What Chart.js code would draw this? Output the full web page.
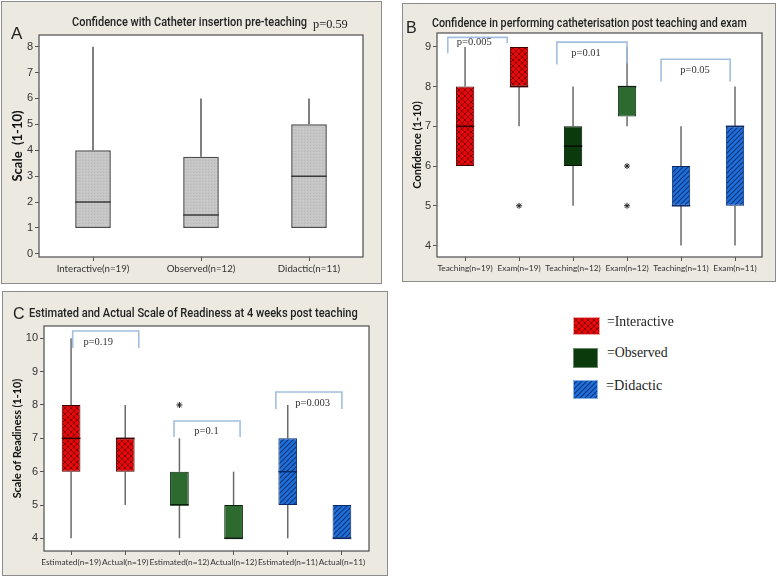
<!DOCTYPE html>
<html><head><meta charset="utf-8">
<script src="https://cdn.jsdelivr.net/npm/chart.js@4.4.1/dist/chart.umd.min.js"></script>
<style>
html,body{margin:0;padding:0;background:#fff;}
body{width:778px;height:577px;position:relative;overflow:hidden;}
.frame{position:absolute;box-sizing:border-box;background:#ece9e1;border:1px solid #8c8c8c;}
canvas{position:absolute;}
.t{position:absolute;white-space:nowrap;line-height:1.2;color:#222;transform-origin:0 50%;}
</style></head><body>
<div class="frame" style="left:1px;top:1px;width:381px;height:283px"></div>
<div class="frame" style="left:402px;top:3px;width:374px;height:279px"></div>
<div class="frame" style="left:2px;top:291px;width:386px;height:285px"></div>
<canvas id="cA" width="381" height="283" style="left:1px;top:1px"></canvas>
<canvas id="cB" width="374" height="279" style="left:402px;top:3px"></canvas>
<canvas id="cC" width="386" height="285" style="left:2px;top:291px"></canvas>
<canvas id="lg1" width="27" height="18" style="left:573px;top:317px"></canvas>
<canvas id="lg2" width="25" height="20" style="left:573px;top:348px"></canvas>
<canvas id="lg3" width="25" height="19" style="left:573px;top:380px"></canvas>
<script>
// ---------------- DATA ----------------
// Panel A : Confidence with Catheter insertion pre-teaching
const catsA = ['Interactive(n=19)', 'Observed(n=12)', 'Didactic(n=11)'];
const minA = [1, 1, 1];
const q1A  = [1, 1, 1];
const medA = [2, 1.5, 3];
const q3A  = [4, 3.75, 5];
const maxA = [8, 6, 6];
const outIdxA = [];
const outValA = [];
const yTicksA = [0, 1, 2, 3, 4, 5, 6, 7, 8];

// Panel B : Confidence in performing catheterisation post teaching and exam
const catsB = ['Teaching(n=19)', 'Exam(n=19)', 'Teaching(n=12)', 'Exam(n=12)', 'Teaching(n=11)', 'Exam(n=11)'];
const minB = [6, 7, 5, 7, 4, 4];
const q1B  = [6, 8, 6, 7.25, 5, 5];
const medB = [7, 8, 6.5, 8, 5, 7];
const q3B  = [8, 9, 7, 8, 6, 7];
const maxB = [9, 9, 8, 9, 7, 8];
const outIdxB = [1, 3, 3];
const outValB = [5, 6, 5];
const yTicksB = [4, 5, 6, 7, 8, 9];
const pLabelsB = ['p=0.005', 'p=0.01', 'p=0.05'];
const pFromB   = [-0.32, 1.70, 3.63];
const pToB     = [0.78, 3.0, 4.91];
const pTopB    = [9.24, 9.12, 8.69];
const pLeftEndB  = [8.84, 8.56, 8.12];
const pRightEndB = [9.09, 8.58, 8.12];
const pTextXB  = [0.17, 2.24, 4.26];
const pTextYB  = [9.12, 8.84, 8.41];

// Panel C : Estimated and Actual Scale of Readiness at 4 weeks post teaching
const catsC = ['Estimated(n=19)', 'Actual(n=19)', 'Estimated(n=12)', 'Actual(n=12)', 'Estimated(n=11)', 'Actual(n=11)'];
const minC = [4, 5, 4, 4, 4, 4];
const q1C  = [6, 6, 5, 4, 5, 4];
const medC = [7, 7, 5, 4, 6, 4];
const q3C  = [8, 7, 6, 5, 7, 5];
const maxC = [10, 8, 7, 6, 8, 5];
const outIdxC = [2];
const outValC = [8];
const yTicksC = [4, 5, 6, 7, 8, 9, 10];
const pLabelsC = ['p=0.19', 'p=0.1', 'p=0.003'];
const pFromC   = [0.03, 1.90, 3.78];
const pToC     = [1.25, 3.12, 5.0];
const pTopC    = [10.22, 7.52, 8.39];
const pLeftEndC  = [9.71, 7.04, 7.88];
const pRightEndC = [9.71, 7.04, 7.88];
const pTextXC  = [0.5, 2.5, 4.46];
const pTextYC  = [9.89, 7.2, 8.06];

// legend groups
const groups = ['Interactive', 'Observed', 'Didactic'];

// ---------------- STYLES ----------------
const NARROW = "Lato, 'Liberation Sans', sans-serif";
function tile(ctx, kind) {
  const c = document.createElement('canvas');
  const g = c.getContext('2d');
  if (kind === 'red') {
    c.width = c.height = 6;
    g.fillStyle = '#e8080a'; g.fillRect(0, 0, 6, 6);
    g.strokeStyle = '#8a0000'; g.lineWidth = 1;
    g.beginPath(); g.moveTo(0, 0); g.lineTo(6, 6); g.moveTo(6, 0); g.lineTo(0, 6); g.stroke();
  } else if (kind === 'blue') {
    c.width = c.height = 5;
    g.fillStyle = '#1f70dc'; g.fillRect(0, 0, 5, 5);
    g.strokeStyle = '#0c3577'; g.lineWidth = 1.2;
    g.beginPath(); g.moveTo(0, 5); g.lineTo(5, 0); g.moveTo(-1, 1); g.lineTo(1, -1); g.moveTo(4, 6); g.lineTo(6, 4); g.stroke();
  } else {
    c.width = c.height = 3;
    g.fillStyle = '#c5c5c5'; g.fillRect(0, 0, 3, 3);
    g.fillStyle = '#b9b9b9'; g.fillRect(0, 0, 1, 1);
    g.fillStyle = '#d0d0d0'; g.fillRect(2, 1, 1, 1);
  }
  return ctx.createPattern(c, 'repeat');
}
const STYLE = {
  gray:    {fill: 'gray', edge: '#4d4d4d', med: '#3a3a3a', bw: 1.5},
  red:     {fill: 'red', edge: '#3d0000', med: '#3d0000', bw: 1},
  dkgreen: {fill: '#0b3b0c', edge: '#031403', med: '#020b02', bw: 1},
  green:   {fill: '#2c6a30', edge: '#0a220b', med: '#0a220b', bw: 1},
  blue:    {fill: 'blue', edge: '#0b2966', med: '#0b2966', bw: 1}
};
function fillOf(ctx, key) {
  const f = STYLE[key].fill;
  return (f === 'red' || f === 'blue' || f === 'gray') ? tile(ctx, f) : f;
}

// ---------------- PLUGIN: whiskers, medians, brackets, frame ----------------
const boxPlugin = {
  id: 'boxDraw',
  beforeDraw(chart) {
    const {ctx, chartArea: a} = chart;
    ctx.save(); ctx.fillStyle = '#ffffff'; ctx.fillRect(a.left, a.top, a.width, a.height); ctx.restore();
  },
  beforeDatasetsDraw(chart) {
    const s = chart.data.datasets[0].stats;
    const {ctx, scales: {x, y}} = chart;
    ctx.save();
    ctx.strokeStyle = s.whisker; ctx.lineWidth = 1.5;
    s.min.forEach((mn, i) => {
      const px = x.getPixelForValue(i);
      ctx.beginPath();
      ctx.moveTo(px, y.getPixelForValue(mn)); ctx.lineTo(px, y.getPixelForValue(s.q1[i]));
      ctx.moveTo(px, y.getPixelForValue(s.q3[i])); ctx.lineTo(px, y.getPixelForValue(s.max[i]));
      ctx.stroke();
    });
    ctx.restore();
  },
  afterDatasetsDraw(chart) {
    const s = chart.data.datasets[0].stats;
    const {ctx, chartArea: a, scales: {x, y}} = chart;
    const meta = chart.getDatasetMeta(0);
    ctx.save();
    // medians
    s.med.forEach((m, i) => {
      const el = meta.data[i];
      const py = y.getPixelForValue(m);
      ctx.strokeStyle = s.medColors[i]; ctx.lineWidth = 1.5;
      ctx.beginPath(); ctx.moveTo(el.x - el.width / 2, py); ctx.lineTo(el.x + el.width / 2, py); ctx.stroke();
    });
    // significance brackets
    if (s.br) {
      ctx.strokeStyle = '#a3bfdf'; ctx.lineWidth = 1.6;
      s.br.labels.forEach((lab, k) => {
        const x0 = x.getPixelForValue(s.br.from[k]), x1 = x.getPixelForValue(s.br.to[k]);
        ctx.beginPath();
        ctx.moveTo(x0, y.getPixelForValue(s.br.leftEnd[k]));
        ctx.lineTo(x0, y.getPixelForValue(s.br.top[k]));
        ctx.lineTo(x1, y.getPixelForValue(s.br.top[k]));
        ctx.lineTo(x1, y.getPixelForValue(s.br.rightEnd[k]));
        ctx.stroke();
        ctx.fillStyle = '#333'; ctx.font = "10.5px 'Liberation Serif', serif";
        ctx.textAlign = 'center'; ctx.textBaseline = 'middle';
        ctx.fillText(lab, x.getPixelForValue(s.br.tx[k]), y.getPixelForValue(s.br.ty[k]));
      });
    }
    // plot frame
    ctx.strokeStyle = '#5a5a5a'; ctx.lineWidth = 1.3;
    ctx.strokeRect(a.left, a.top, a.width, a.height);
    ctx.restore();
  }
};

function boxChart(id, spec) {
  const ctx = document.getElementById(id).getContext('2d');
  const boxes = spec.cats.map((c, i) => ({x: i, y: [spec.q1[i], spec.q3[i]]}));
  const outs = spec.outIdx.map((k, j) => ({x: k, y: spec.outVal[j]}));
  return new Chart(ctx, {
    type: 'bar',
    data: {
      datasets: [{
        type: 'bar',
        data: boxes,
        backgroundColor: spec.styles.map(k => fillOf(ctx, k)),
        borderColor: spec.styles.map(k => STYLE[k].edge),
        borderWidth: spec.styles.map(k => STYLE[k].bw),
        borderSkipped: false,
        categoryPercentage: 1,
        barPercentage: spec.barPct,
        order: 1,
        stats: {min: spec.min, q1: spec.q1, med: spec.med, q3: spec.q3, max: spec.max,
                whisker: spec.whisker, medColors: spec.styles.map(k => STYLE[k].med), br: spec.br}
      }, {
        type: 'scatter',
        data: outs,
        pointStyle: 'star',
        radius: 3,
        borderColor: '#222',
        borderWidth: 1,
        order: 0
      }]
    },
    options: {
      responsive: false,
      animation: false,
      events: [],
      layout: {padding: {top: spec.padTop, right: spec.padRight, left: 0, bottom: 0}},
      plugins: {legend: {display: false}, tooltip: {enabled: false}},
      scales: {
        x: {
          type: 'linear', min: spec.xMin, max: spec.xMax, offset: false,
          afterBuildTicks: s => { s.ticks = spec.cats.map((c, i) => ({value: i})); },
          afterFit: s => { s.height = spec.xH; s.paddingLeft = 0; s.paddingRight = 0; },
          ticks: {callback: (v, i) => spec.cats[i], autoSkip: false, maxRotation: 0, minRotation: 0,
                  padding: 2, color: '#333', font: {family: NARROW, size: spec.xFont}},
          grid: {display: true, offset: false, drawOnChartArea: false, drawTicks: true, tickLength: 4, color: '#555'},
          border: {display: false}
        },
        y: {
          min: spec.yMin, max: spec.yMax,
          afterBuildTicks: s => { s.ticks = spec.yTicks.map(v => ({value: v})); },
          afterFit: s => { s.width = spec.yW; },
          ticks: {padding: 2, color: '#333', font: {family: "'Liberation Sans', sans-serif", size: 11}},
          grid: {display: true, drawOnChartArea: false, drawTicks: true, tickLength: 4, color: '#555'},
          border: {display: false},
          title: {display: true, text: spec.yTitle, color: '#111',
                  font: {family: NARROW, size: spec.yTitleSize, weight: 'bold'},
                  padding: {top: spec.yTitlePad, bottom: 0}}
        }
      }
    },
    plugins: [boxPlugin]
  });
}

boxChart('cA', {
  cats: catsA, min: minA, q1: q1A, med: medA, q3: q3A, max: maxA, outIdx: outIdxA, outVal: outValA,
  yTicks: yTicksA, yMin: -0.12, yMax: 8.45, xMin: -0.5, xMax: 2.5, barPct: 0.33,
  styles: ['gray', 'gray', 'gray'], whisker: '#555',
  padTop: 34, padRight: 19, yW: 38, xH: 27, xFont: 9.7,
  yTitle: 'Scale  (1-10)', yTitleSize: 13, yTitlePad: 9
});
boxChart('cB', {
  cats: catsB, min: minB, q1: q1B, med: medB, q3: q3B, max: maxB, outIdx: outIdxB, outVal: outValB,
  yTicks: yTicksB, yMin: 3.71, yMax: 9.35, xMin: -0.52, xMax: 5.5, barPct: 0.34,
  styles: ['red', 'red', 'dkgreen', 'green', 'blue', 'blue'], whisker: '#6a6a6a',
  padTop: 30, padRight: 14, yW: 35, xH: 25, xFont: 8.3,
  yTitle: 'Confidence (1-10)', yTitleSize: 11, yTitlePad: 9,
  br: {labels: pLabelsB, from: pFromB, to: pToB, top: pTopB, leftEnd: pLeftEndB, rightEnd: pRightEndB, tx: pTextXB, ty: pTextYB}
});
boxChart('cC', {
  cats: catsC, min: minC, q1: q1C, med: medC, q3: q3C, max: maxC, outIdx: outIdxC, outVal: outValC,
  yTicks: yTicksC, yMin: 3.62, yMax: 10.37, xMin: -0.5, xMax: 5.5, barPct: 0.345,
  styles: ['red', 'red', 'green', 'green', 'blue', 'blue'], whisker: '#6a6a6a',
  padTop: 35, padRight: 19, yW: 42, xH: 25, xFont: 8.3,
  yTitle: 'Scale of Readiness (1-10)', yTitleSize: 10.8, yTitlePad: 9,
  br: {labels: pLabelsC, from: pFromC, to: pToC, top: pTopC, leftEnd: pLeftEndC, rightEnd: pRightEndC, tx: pTextXC, ty: pTextYC}
});

// ---------------- legend swatches ----------------
['lg1', 'lg2', 'lg3'].forEach((id, i) => {
  const cv = document.getElementById(id), g = cv.getContext('2d');
  const key = ['red', 'dkgreen', 'blue'][i];
  g.fillStyle = fillOf(g, key); g.fillRect(0, 0, cv.width, cv.height);
  g.strokeStyle = ['#f0a0a0', '#6a8a6a', '#8ab0e0'][i]; g.lineWidth = 1;
  g.strokeRect(0.5, 0.5, cv.width - 1, cv.height - 1);
});

// ---------------- texts ----------------
const texts = [
  {t: 'A', x: 11, cy: 34, css: "17px 'Liberation Sans', sans-serif"},
  {t: 'Confidence with Catheter insertion pre-teaching', x: 72, cy: 22, w: 235, css: "500 13px Roboto, sans-serif"},
  {t: 'p=0.59', x: 313, cy: 23.5, w: 35, css: "12px 'Liberation Serif', serif"},
  {t: 'B', x: 406, cy: 27.5, css: "16px 'Liberation Sans', sans-serif"},
  {t: 'Confidence in performing catheterisation post teaching and exam', x: 432, cy: 22.5, w: 315, css: "500 13px Roboto, sans-serif"},
  {t: 'C', x: 13, cy: 313, css: "16px 'Liberation Sans', sans-serif"},
  {t: 'Estimated and Actual Scale of Readiness at 4 weeks post teaching', x: 29, cy: 312.5, w: 329, css: "500 13px Roboto, sans-serif"},
  {t: '=' + groups[0], x: 607, cy: 322, w: 67, css: "14px 'Liberation Serif', serif"},
  {t: '=' + groups[1], x: 607, cy: 353.5, w: 61, css: "14px 'Liberation Serif', serif"},
  {t: '=' + groups[2], x: 606, cy: 386, w: 56, css: "14px 'Liberation Serif', serif"}
];
texts.forEach(o => {
  const d = document.createElement('div');
  d.className = 't'; d.textContent = o.t; d.style.font = o.css; d.style.lineHeight = '1.2';
  document.body.appendChild(d);
  const h = d.offsetHeight, w = d.offsetWidth;
  d.style.left = o.x + 'px'; d.style.top = (o.cy - h / 2) + 'px';
  if (o.w) d.style.transform = 'scaleX(' + (o.w / w) + ')';
});
</script>
</body></html>
